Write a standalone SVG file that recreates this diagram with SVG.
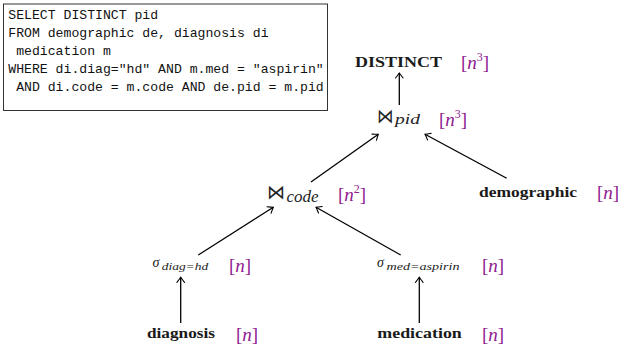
<svg xmlns="http://www.w3.org/2000/svg" width="619" height="352" viewBox="0 0 619 352">
<defs>
<marker id="arr" viewBox="-6 -5 8 10" markerWidth="8" markerHeight="10" refX="0" refY="0" orient="auto" markerUnits="userSpaceOnUse">
<path d="M -5 -3.8 Q -1.5 -1 0 0 Q -1.5 1 -5 3.8" fill="none" stroke="#000" stroke-width="1.1" stroke-linecap="round"/>
</marker>
</defs>
<style>
.sql{font-family:"Liberation Mono","DejaVu Sans Mono",monospace;font-size:13.15px;fill:#111}
.lbl{font-family:"Liberation Serif","DejaVu Serif",serif;font-weight:bold;font-size:15px;fill:#1a1a1a}
.cost{font-family:"Liberation Serif","DejaVu Serif",serif;font-size:19px;fill:#902090}
.it{font-family:"Liberation Serif","DejaVu Serif",serif;font-style:italic;fill:#222}
.op{font-family:"DejaVu Sans",sans-serif;font-weight:200;fill:#222}
.edge{stroke:#000;stroke-width:1.3;fill:none;marker-end:url(#arr)}
</style>
<rect width="619" height="352" fill="#fff"/>
<g id="sql-box">
<rect x="3.5" y="4" width="324" height="106.5" fill="#fff" stroke="#333" stroke-width="1"/>
<text class="sql" x="8.3" y="19">SELECT DISTINCT pid</text>
<text class="sql" x="8.3" y="37">FROM demographic de, diagnosis di</text>
<text class="sql" x="16.2" y="55">medication m</text>
<text class="sql" x="8.3" y="73">WHERE di.diag="hd" AND m.med = "aspirin"</text>
<text class="sql" x="16.2" y="91">AND di.code = m.code AND de.pid = m.pid</text>
</g>
<g id="connectors">
<path class="edge" d="M399.3 105 L399.3 73"/>
<path class="edge" d="M311 182 L378.3 134.3"/>
<path class="edge" d="M506.7 178.3 L425 134.3"/>
<path class="edge" d="M198.3 255 L273.3 207.3"/>
<path class="edge" d="M400.7 255 L316 207.3"/>
<path class="edge" d="M180.7 323 L180.7 277.3"/>
<path class="edge" d="M419.3 323 L419.3 277.3"/>
</g>
<g id="distinct">
<text class="lbl" x="355" y="67" textLength="87" lengthAdjust="spacingAndGlyphs">DISTINCT</text>
<text class="cost" x="461" y="69">[<tspan font-style="italic">n</tspan><tspan font-size="12" dy="-8">3</tspan><tspan dy="8">]</tspan></text>
</g>
<g id="join-pid">
<text class="op" x="376.5" y="122.5" font-size="20" textLength="16.5" lengthAdjust="spacingAndGlyphs">⋈</text>
<text class="it" x="395" y="124" font-size="15" textLength="25" lengthAdjust="spacingAndGlyphs">pid</text>
<text class="cost" x="439" y="126">[<tspan font-style="italic">n</tspan><tspan font-size="12" dy="-8">3</tspan><tspan dy="8">]</tspan></text>
</g>
<g id="join-code">
<text class="op" x="266.5" y="199" font-size="20" textLength="18" lengthAdjust="spacingAndGlyphs">⋈</text>
<text class="it" x="286.5" y="201.5" font-size="16" textLength="32" lengthAdjust="spacingAndGlyphs">code</text>
<text class="cost" x="338" y="201">[<tspan font-style="italic">n</tspan><tspan font-size="12" dy="-8">2</tspan><tspan dy="8">]</tspan></text>
</g>
<g id="demographic">
<text class="lbl" x="479" y="197" textLength="98" lengthAdjust="spacingAndGlyphs">demographic</text>
<text class="cost" x="597" y="199">[<tspan font-style="italic">n</tspan>]</text>
</g>
<g id="select-diag">
<text class="it" x="152.5" y="267.3" font-size="14">σ</text>
<text class="it" x="161.7" y="269.5" font-size="10" textLength="46.5" lengthAdjust="spacingAndGlyphs">diag=hd</text>
<text class="cost" x="229" y="272">[<tspan font-style="italic">n</tspan>]</text>
</g>
<g id="select-med">
<text class="it" x="377" y="267.3" font-size="14">σ</text>
<text class="it" x="386.5" y="269.5" font-size="10" textLength="73" lengthAdjust="spacingAndGlyphs">med=aspirin</text>
<text class="cost" x="482" y="272">[<tspan font-style="italic">n</tspan>]</text>
</g>
<g id="diagnosis">
<text class="lbl" x="147" y="338" textLength="68" lengthAdjust="spacingAndGlyphs">diagnosis</text>
<text class="cost" x="236" y="341">[<tspan font-style="italic">n</tspan>]</text>
</g>
<g id="medication">
<text class="lbl" x="377.3" y="338" textLength="84.5" lengthAdjust="spacingAndGlyphs">medication</text>
<text class="cost" x="482" y="341">[<tspan font-style="italic">n</tspan>]</text>
</g>
</svg>
